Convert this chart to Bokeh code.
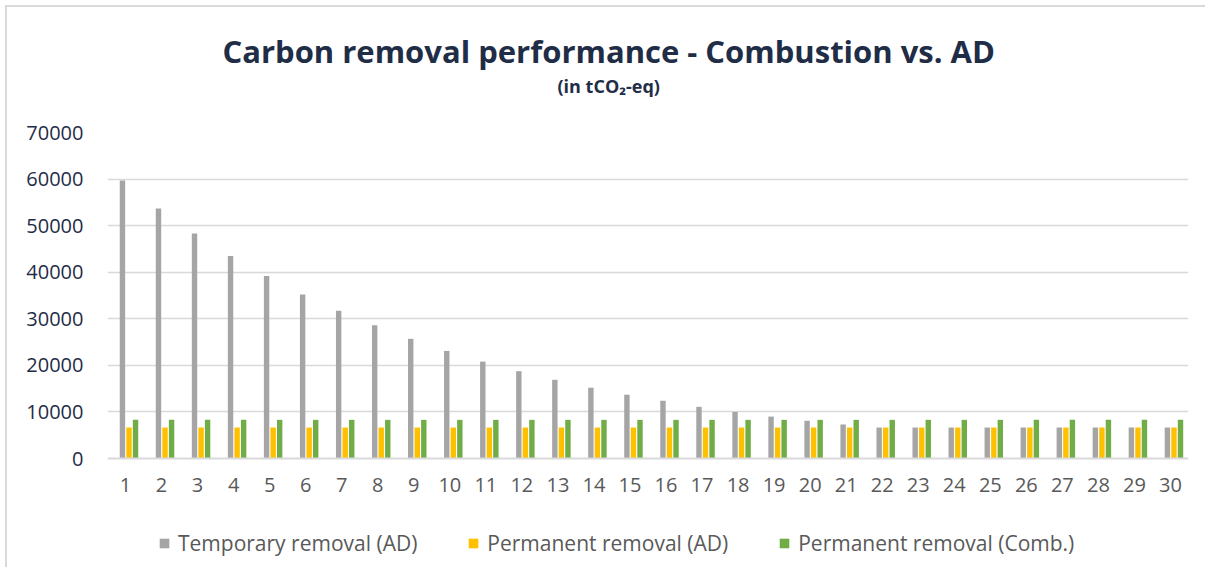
from bokeh.plotting import figure
from bokeh.models import ColumnDataSource, Range1d, FixedTicker, Title, Legend, LegendItem, BasicTickFormatter
from bokeh.transform import dodge
from bokeh.embed import file_html
from bokeh.resources import INLINE

years = list(range(1, 31))
temporary_ad = [59700, 53700, 48300, 43500, 39200, 35200, 31700, 28600, 25700, 23100,
                20800, 18750, 16900, 15200, 13700, 12400, 11100, 10000, 9000, 8100,
                7300, 6650, 6650, 6650, 6650, 6650, 6650, 6650, 6650, 6650]
permanent_ad = [6650] * 30
permanent_comb = [8300] * 30
y_ticks = [0, 10000, 20000, 30000, 40000, 50000, 60000, 70000]
series_names = ["Temporary removal (AD)", "Permanent removal (AD)", "Permanent removal (Comb.)"]
colors = ["#A5A5A5", "#FFC000", "#70AD47"]

src = ColumnDataSource(dict(year=years, tmp=temporary_ad, pad=permanent_ad, pcomb=permanent_comb))

# frame: top = 70000 gridline, value 0 sits 326px lower; the frame continues below
# so that the category labels and the legend live inside it
px_per_unit = 326 / 70000
below_px = 104
p = figure(width=1200, height=562, output_backend="svg", toolbar_location=None, title=None,
           x_range=Range1d(0.5, 30.5), y_range=Range1d(-below_px / px_per_unit, 70000),
           min_border_left=100, min_border_right=19, min_border_top=125, min_border_bottom=7)
p.styles = {"margin-left": "5px", "margin-top": "5px",
            "border-left": "2px solid #D9D9D9", "border-top": "2px solid #D9D9D9"}
p.outline_line_color = None
p.background_fill_color = "white"

bw = 0.15
r1 = p.vbar(x=dodge("year", -0.085, range=p.x_range), top="tmp", width=bw, source=src,
            fill_color=colors[0], line_color=None)
r2 = p.vbar(x=dodge("year", 0.097, range=p.x_range), top="pad", width=bw, source=src,
            fill_color=colors[1], line_color=None)
r3 = p.vbar(x=dodge("year", 0.278, range=p.x_range), top="pcomb", width=bw, source=src,
            fill_color=colors[2], line_color=None)

# axes
p.xaxis.fixed_location = 0
p.xaxis.ticker = FixedTicker(ticks=years)
p.yaxis.ticker = FixedTicker(ticks=y_ticks)
p.yaxis.formatter = BasicTickFormatter(use_scientific=False)
for ax in (p.xaxis[0], p.yaxis[0]):
    ax.major_tick_line_color = None
    ax.minor_tick_line_color = None
    ax.major_label_text_font = "Open Sans"
    ax.major_label_text_font_size = "20px"
p.yaxis.axis_line_color = None
p.xaxis.axis_line_color = "#D9D9D9"
p.xaxis.axis_line_width = 2
p.yaxis.major_label_standoff = 18
p.xaxis.major_label_standoff = 13
p.yaxis.major_label_text_color = "#1F2D47"
p.xaxis.major_label_text_color = "#595959"

p.xgrid.grid_line_color = None
p.ygrid.ticker = FixedTicker(ticks=y_ticks[1:])
p.ygrid.grid_line_color = "#D9D9D9"
p.ygrid.grid_line_width = 1.5

# titles (first added sits closest to the plot area)
p.add_layout(Title(text=" ", text_font_size="1px", standoff=32), "above")
p.add_layout(Title(text="(in tCO\u2082-eq)", align="left", offset=450,
                   text_font="Open Sans", text_font_style="bold", text_font_size="18px",
                   text_color="#1F2D47", standoff=0), "above")
p.add_layout(Title(text="Carbon removal performance - Combustion vs. AD", align="left", offset=115,
                   text_font="Open Sans", text_font_style="bold", text_font_size="31px",
                   text_color="#1F2D47", standoff=0), "above")

legend = Legend(items=[LegendItem(label=series_names[0], renderers=[r1]),
                       LegendItem(label=series_names[1], renderers=[r2]),
                       LegendItem(label=series_names[2], renderers=[r3])],
                orientation="horizontal", location=(51, 5),
                glyph_width=12, glyph_height=12, label_standoff=8, spacing=50,
                padding=0, margin=0, border_line_color=None, background_fill_alpha=0,
                label_text_font="Open Sans", label_text_font_size="21px",
                label_text_color="#595959", label_height=22)
p.add_layout(legend, "center")

open("out.html", "w").write(file_html(p, INLINE))
